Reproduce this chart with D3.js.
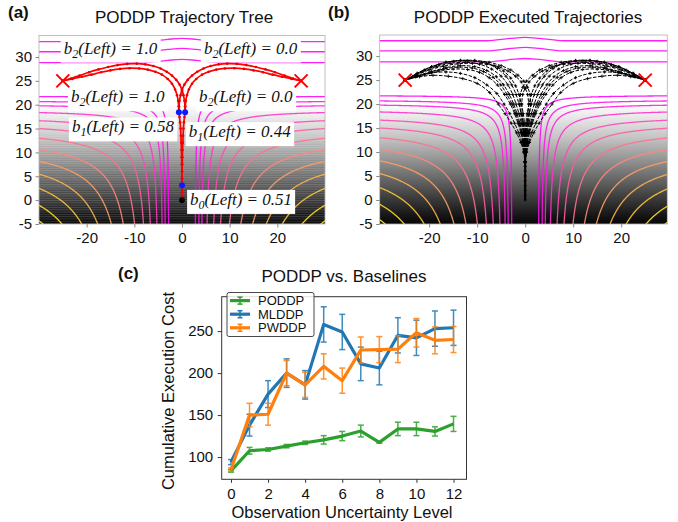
<!DOCTYPE html>
<html>
<head>
<script src="https://d3js.org/d3.v7.min.js"></script>
<style>
body { margin: 0; background: #fff; }
text { font-family: "Liberation Sans", Arial, Helvetica, sans-serif; }
</style>
</head>
<body>
<svg width="678" height="522"></svg>
<script>

// ---------- panel (c) data ----------
const uncertaintyLevels = [0, 1, 2, 3, 4, 5, 6, 7, 8, 9, 10, 11, 12];
const poddpCost = [83.5, 107.5, 109, 113, 117, 120.5, 125, 131, 117.5, 133.5, 133.5, 130.5, 139.5];
const poddpErr  = [1.5, 4, 2, 2, 2, 5, 5.5, 7, 1, 8, 8, 5.5, 9];
const mlddpCost = [94, 138, 175, 200, 186, 258, 249, 211, 206, 245, 242, 253, 254];
const mlddpErr  = [3, 13, 16, 17, 17, 21, 21, 20, 20, 21, 21, 21, 21];
const pwddpCost = [85, 150, 151, 200, 186, 208, 191, 227.5, 228, 228.5, 248, 239, 240];
const pwddpErr  = [2, 14, 13, 15, 15, 15, 15, 15.5, 15.5, 16, 17, 16, 15.5];
const costTicks = [100, 150, 200, 250];
const levelTicks = [0, 2, 4, 6, 8, 10, 12];

// ---------- panels (a) and (b) data ----------
const xTicks = [-20, -10, 0, 10, 20];
const yTicks = [-5, 0, 5, 10, 15, 20, 25, 30];
const goals = [[-25, 25], [25, 25]];
// where each curved cost contour meets the left edge (x = -30) and the bottom edge (y = -5)
const contourEdgeY = [21.7, 20.6, 19.8, 18.4, 16.7, 14.9, 12.8, 10.1, 7.6, 4.9, 1.7, -2.1, -4.3];
const contourBottomX = [-2.8, -3.5, -4.2, -5.3, -6.7, -8.0, -9.8, -11.9, -14.3, -17.1, -20.2, -24.0, -29.2];
// flat contours above the goals
const topContours = [
  [[-31, 28.8], [-8, 28.8], [-3, 29.3], [0, 29.5], [3, 29.3], [8, 28.8], [31, 28.8]],
  [[-31, 31.1], [-8, 31.1], [-3, 31.6], [0, 31.8], [3, 31.6], [8, 31.1], [31, 31.1]],
  [[-31, 33.2], [-8, 33.2], [-3, 33.7], [0, 33.9], [3, 33.7], [8, 33.2], [31, 33.2]]
];
// background shade by height
const shadeStops = [[20, "#ffffff"], [17, "#e6e6e6"], [13, "#c4c4c4"], [9, "#9a9a9a"],
                    [5, "#6e6e6e"], [1, "#424242"], [-3, "#181818"], [-5, "#060606"]];

// (a) trajectory tree
const treeTrunk = [[0, 0], [0, 0.8], [0, 1.6], [0, 2.4], [0, 3.1]];
const treeBranch = [[0, 3.1], [0, 4.5], [-0.02, 6], [-0.05, 7.5], [-0.08, 9], [-0.12, 10.5], [-0.17, 12],
                    [-0.23, 13.5], [-0.3, 15], [-0.4, 16.3], [-0.52, 17.4], [-0.65, 18.4]];
const treeArcInner = [[-0.65, 18.4], [-0.7, 19.6], [-0.8, 20.8], [-1.05, 22], [-1.45, 23.2], [-2.1, 24.4],
                      [-3, 25.4], [-4.2, 26.3], [-5.6, 26.9], [-7.2, 27.35], [-9, 27.6], [-11, 27.65],
                      [-13, 27.5], [-15, 27.2], [-17, 26.8], [-19, 26.3], [-21, 25.85], [-23, 25.4], [-25, 25]];
const treeArcOuter = [[0.65, 18.4], [0.62, 19.6], [0.52, 20.8], [0.3, 22], [0, 23.1], [-0.5, 24.2],
                      [-1.2, 25.2], [-2.1, 26.1], [-3.2, 26.9], [-4.5, 27.6], [-6, 28.1], [-7.7, 28.45],
                      [-9.5, 28.6], [-11.5, 28.55], [-13.5, 28.3], [-15.5, 27.9], [-17.5, 27.4],
                      [-19.5, 26.8], [-21.5, 26.1], [-23.3, 25.5], [-25, 25]];
const treeNodes = [[0, 3.1], [-0.65, 18.4], [0.65, 18.4]];
const treeRoot = [0, 0];
const beliefNotes = [
  {step: "2", value: "1.0", x: -15, y: 30.7},
  {step: "2", value: "0.0", x: 14.4, y: 30.7},
  {step: "2", value: "1.0", x: -13.5, y: 20.5},
  {step: "2", value: "0.0", x: 13.4, y: 20.5},
  {step: "1", value: "0.58", x: -12.4, y: 14.2},
  {step: "1", value: "0.44", x: 12.1, y: 13.2},
  {step: "0", value: "0.51", x: 12.4, y: -1.0}
];

// (b) executed trajectories, left-going ones (right-going are mirrored)
const execTrunk = [[0, 0], [0, 1], [0, 2], [0, 3], [0, 4], [0, 5], [0, 6], [0, 7], [0, 8], [0, 9], [0, 10]];
const execLeft = [
  [[0, 8], [-0.3, 10], [-0.9, 12], [-1.8, 14], [-2.9, 16], [-4.2, 18], [-5.6, 20], [-7.4, 22.4], [-10, 24.3],
   [-13, 25.3], [-16, 25.8], [-19.2, 26], [-22, 25.7], [-25, 25]],
  [[0, 8], [-0.25, 10], [-0.7, 12], [-1.35, 14], [-2.2, 16], [-3.2, 18], [-4.4, 20], [-5.9, 22.2], [-8, 24],
   [-10.5, 25.5], [-13.5, 26.4], [-16.5, 26.7], [-19.5, 26.5], [-22.5, 25.8], [-25, 25]],
  [[0, 8], [-0.2, 10], [-0.5, 12], [-0.9, 14], [-1.5, 16], [-2.2, 18], [-3.1, 20], [-4.3, 22], [-5.8, 24],
   [-7.5, 25.5], [-9.5, 26.6], [-12, 27.2], [-15, 27.3], [-18, 26.9], [-21, 26.1], [-25, 25]],
  [[0, 8], [-0.15, 10], [-0.4, 12], [-0.75, 14], [-1.3, 16], [-1.95, 18], [-2.75, 20], [-3.8, 22], [-5.1, 24],
   [-6.7, 25.6], [-8.7, 26.8], [-11, 27.5], [-14, 27.7], [-17, 27.3], [-20, 26.5], [-22.8, 25.7], [-25, 25]],
  [[0, 8], [-0.1, 10], [-0.3, 12], [-0.6, 14], [-1.1, 16], [-1.7, 18], [-2.4, 20], [-3.3, 22], [-4.5, 24],
   [-6, 25.7], [-8, 27], [-10.5, 27.8], [-13.5, 28], [-16.5, 27.6], [-19.5, 26.8], [-22.5, 25.9], [-25, 25]],
  [[0, 8], [0, 10], [-0.15, 12], [-0.4, 14], [-0.8, 16], [-1.3, 18], [-1.9, 20], [-2.6, 22], [-3.6, 24],
   [-5, 25.8], [-7, 27.3], [-9.5, 28.3], [-12.5, 28.7], [-15.5, 28.5], [-18.5, 27.8], [-21.5, 26.7], [-25, 25]],
  [[0, 8], [0, 10], [0, 12], [-0.1, 14], [-0.4, 16], [-0.8, 18], [-1.3, 20], [-1.9, 22], [-2.8, 24],
   [-4, 25.8], [-5.8, 27.4], [-8, 28.5], [-10.5, 29], [-13.5, 29.1], [-16.5, 28.7], [-19.5, 27.8], [-22.5, 26.4], [-25, 25]],
  [[0, 8], [0, 10], [0, 12], [0, 14], [-0.15, 16], [-0.4, 18], [-0.8, 20], [-1.3, 22], [-2, 23.8], [-3, 25.4],
   [-4.5, 26.9], [-6.5, 28], [-9, 28.7], [-12, 29], [-15, 28.9], [-18, 28.2], [-21, 27.1], [-25, 25]],
  [[0, 8], [0, 10], [0.05, 12], [0.2, 14], [0.4, 16], [0.6, 18], [0.7, 20], [0.5, 22], [0, 23.3], [-0.8, 24.6],
   [-2, 25.8], [-3.6, 26.9], [-5.6, 27.8], [-8, 28.3], [-11, 28.5], [-14, 28.4], [-17, 27.9], [-20, 27.1],
   [-22.8, 26], [-25, 25]],
  [[0, 8], [0, 10], [0.1, 12], [0.3, 14], [0.6, 16], [0.9, 18], [1.1, 20], [1.0, 22], [0.5, 23.5], [-0.3, 24.8],
   [-1.5, 26], [-3, 27.1], [-5, 28], [-7.5, 28.7], [-10.5, 29.1], [-13.5, 29.1], [-16.5, 28.7], [-19.5, 27.8],
   [-22.5, 26.4], [-25, 25]]
];

// ---------- cost field behind (a) and (b) ----------
const ceilingY = 22, wallOffset = 2.5, wallRef = 2.8, wallDecay = 5, normP = 1.5, shift = 4;
const soft = d => d > 0 ? shift + d : shift * Math.exp(d / shift);
function costField(x, y) {
  const ax = Math.abs(x);
  const u = soft(ax - wallOffset * Math.exp(-(ax - wallRef) / wallDecay));
  const v = soft(ceilingY - y);
  return Math.pow(Math.pow(u, -normP) + Math.pow(v, -normP), -1 / normP);
}
const contourLevels = contourEdgeY.map((y, i) => (costField(-30, y) + costField(contourBottomX[i], -5)) / 2);
const spring = t => d3.rgb(255, Math.round(255 * t), Math.round(255 * (1 - t))).toString();
const levelTone = d3.scaleLinear().domain(d3.extent(contourLevels)).range([0.03, 0.95]);

const grid = {x0: -33, y0: -8, step: 0.1};
grid.nx = Math.round((33 - grid.x0) / grid.step) + 1;
grid.ny = Math.round((23 - grid.y0) / grid.step) + 1;
const fieldValues = new Float64Array(grid.nx * grid.ny);
for (let j = 0; j < grid.ny; j++)
  for (let i = 0; i < grid.nx; i++)
    fieldValues[j * grid.nx + i] = costField(grid.x0 + i * grid.step, grid.y0 + j * grid.step);
const isolines = d3.contours().size([grid.nx, grid.ny]).thresholds(contourLevels)(fieldValues);

const mirror = path => path.map(p => [-p[0], p[1]]);

const svg = d3.select("svg");
const defs = svg.append("defs");

const stripes = defs.append("pattern").attr("id", "stripes").attr("patternUnits", "userSpaceOnUse")
    .attr("width", 8).attr("height", 2.3);
stripes.append("rect").attr("width", 8).attr("height", 1).attr("fill", "#fff").attr("opacity", 0.16);

function fieldPanel(id, box, xDomain, yDomain, title, titleX, letter, letterX, striped) {
  const xs = d3.scaleLinear().domain(xDomain).range([box.left, box.right]);
  const ys = d3.scaleLinear().domain(yDomain).range([box.bottom, box.top]);
  const g = svg.append("g");

  defs.append("clipPath").attr("id", "clip" + id).append("rect")
      .attr("x", box.left).attr("y", box.top)
      .attr("width", box.right - box.left).attr("height", box.bottom - box.top);

  const grad = defs.append("linearGradient").attr("id", "shade" + id)
      .attr("gradientUnits", "userSpaceOnUse")
      .attr("x1", 0).attr("x2", 0).attr("y1", ys(shadeStops[0][0])).attr("y2", ys(-5));
  const span = ys(-5) - ys(shadeStops[0][0]);
  shadeStops.forEach(s => grad.append("stop")
      .attr("offset", (ys(s[0]) - ys(shadeStops[0][0])) / span).attr("stop-color", s[1]));

  const plot = g.append("g").attr("clip-path", "url(#clip" + id + ")");
  plot.append("rect").attr("x", box.left).attr("y", box.top)
      .attr("width", box.right - box.left).attr("height", box.bottom - box.top)
      .attr("fill", "url(#shade" + id + ")");
  if (striped) {
    plot.append("rect").attr("x", box.left).attr("y", ys(18.5))
        .attr("width", box.right - box.left).attr("height", box.bottom - ys(18.5))
        .attr("fill", "url(#stripes)");
  }

  const toScreen = d3.geoTransform({
    point: function(px, py) {
      this.stream.point(xs(grid.x0 + (px - 0.5) * grid.step), ys(grid.y0 + (py - 0.5) * grid.step));
    }
  });
  const geo = d3.geoPath(toScreen);
  plot.selectAll(".iso").data(isolines).join("path")
      .attr("d", geo)
      .attr("fill", "none")
      .attr("stroke", d => spring(levelTone(d.value)))
      .attr("stroke-width", 1.3)
      .attr("opacity", 0.9);

  const flat = d3.line().x(d => xs(d[0])).y(d => ys(d[1])).curve(d3.curveMonotoneX);
  plot.selectAll(".top").data(topContours).join("path")
      .attr("d", flat).attr("fill", "none")
      .attr("stroke", spring(0.03)).attr("stroke-width", 1.3).attr("opacity", 0.9);

  // frame and ticks
  g.append("rect").attr("x", box.left).attr("y", box.top)
      .attr("width", box.right - box.left).attr("height", box.bottom - box.top)
      .attr("fill", "none").attr("stroke", "#b0b0b0").attr("stroke-width", 0.8);
  const fmt = d => String(d);
  const ax = g.append("g").attr("transform", "translate(0," + box.bottom + ")")
      .call(d3.axisBottom(xs).tickValues(xTicks).tickSize(3.5).tickPadding(5).tickFormat(fmt));
  const ay = g.append("g").attr("transform", "translate(" + box.left + ",0)")
      .call(d3.axisLeft(ys).tickValues(yTicks).tickSize(3.5).tickPadding(3.5).tickFormat(fmt));
  [ax, ay].forEach(a => {
    a.select(".domain").remove();
    a.selectAll("line").attr("stroke", "#888");
    a.selectAll("text").style("font-size", "15px").attr("fill", "#111")
        .style("font-family", "'Liberation Sans', Arial, sans-serif");
  });

  g.append("text").attr("x", titleX).attr("y", 23).attr("text-anchor", "middle")
      .style("font-size", "17px").attr("fill", "#111").text(title);
  g.append("text").attr("x", letterX).attr("y", 18)
      .style("font-size", "17px").style("font-weight", "bold").attr("fill", "#111").text(letter);

  return {g, plot, xs, ys};
}

function drawGoals(p) {
  p.plot.selectAll(".goal").data(goals).join("path")
      .attr("transform", d => "translate(" + p.xs(d[0]) + "," + p.ys(d[1]) + ")")
      .attr("d", "M-6.5,-6.5L6.5,6.5M-6.5,6.5L6.5,-6.5")
      .attr("stroke", "#f00").attr("stroke-width", 2).attr("fill", "none");
}

// ---------- panel (a) ----------
const pa = fieldPanel("A", {left: 39, right: 325, top: 35.5, bottom: 224}, [-30, 30], [-5, 34.5],
                      "PODDP Trajectory Tree", 184, "(a)", 8, true);

// belief annotations with white boxes
beliefNotes.forEach(a => {
  const t = pa.g.append("text").attr("x", pa.xs(a.x)).attr("y", pa.ys(a.y))
      .attr("text-anchor", "middle")
      .style("font-family", "'Liberation Serif', 'DejaVu Serif', serif")
      .style("font-style", "italic").style("font-size", "17px").attr("fill", "#111");
  t.append("tspan").text("b");
  t.append("tspan").attr("dy", 4).style("font-size", "12px").text(a.step);
  t.append("tspan").attr("dy", -4).text("(Left) = " + a.value);
  const bb = t.node().getBBox();
  pa.g.insert("rect", () => t.node())
      .attr("x", bb.x - 3).attr("y", bb.y).attr("width", bb.width + 6).attr("height", bb.height + 2)
      .attr("fill", "#fff");
});

const treePaths = [treeTrunk, treeBranch, mirror(treeBranch), treeArcInner, treeArcOuter,
                   mirror(treeArcInner), mirror(treeArcOuter)];
const smooth = s => d3.line().x(d => s.xs(d[0])).y(d => s.ys(d[1])).curve(d3.curveCatmullRom.alpha(0.5));
const treeLayer = pa.g.append("g").attr("clip-path", "url(#clipA)");
treeLayer.selectAll(".branch").data(treePaths).join("path")
    .attr("d", smooth(pa)).attr("fill", "none").attr("stroke", "#f00").attr("stroke-width", 1.7);
treeLayer.selectAll(".tick").data(treePaths.flat()).join("circle")
    .attr("cx", d => pa.xs(d[0])).attr("cy", d => pa.ys(d[1])).attr("r", 1.3).attr("fill", "#e00");
drawGoals({plot: treeLayer, xs: pa.xs, ys: pa.ys});
treeLayer.selectAll(".node").data(treeNodes).join("circle")
    .attr("cx", d => pa.xs(d[0])).attr("cy", d => pa.ys(d[1])).attr("r", 3).attr("fill", "#0a1cff");
treeLayer.append("circle").attr("cx", pa.xs(treeRoot[0])).attr("cy", pa.ys(treeRoot[1]))
    .attr("r", 2.8).attr("fill", "#000");

// ---------- panel (b) ----------
const pb = fieldPanel("B", {left: 379.7, right: 667.3, top: 35, bottom: 224}, [-30.3, 29.6], [-5, 34.4],
                      "PODDP Executed Trajectories", 528, "(b)", 328, false);
const execPaths = [execTrunk].concat(execLeft, execLeft.map(mirror));
pb.plot.selectAll(".exec").data(execPaths).join("path")
    .attr("d", smooth(pb)).attr("fill", "none").attr("stroke", "#000")
    .attr("stroke-width", d => d === execTrunk ? 2.2 : 1)
    .attr("stroke-dasharray", d => d === execTrunk ? null : "3.5,1.5");
pb.plot.selectAll(".mark").data(execPaths.flat()).join("path")
    .attr("transform", d => "translate(" + pb.xs(d[0]) + "," + pb.ys(d[1]) + ")")
    .attr("d", "M-1.6,0H1.6M0,-1.6V1.6").attr("stroke", "#000").attr("stroke-width", 0.9);
drawGoals(pb);

// ---------- panel (c) ----------
const box = {left: 221.7, right: 466.5, top: 296.7, bottom: 479.3};
const xc = d3.scaleLinear().domain([-0.5, 12.7]).range([box.left, box.right]);
const yc = d3.scaleLinear().domain([73.5, 291]).range([box.bottom, box.top]);
const gc = svg.append("g");

const series = [
  {name: "PODDP", color: "#2ca02c", mean: poddpCost, err: poddpErr},
  {name: "MLDDP", color: "#1f77b4", mean: mlddpCost, err: mlddpErr},
  {name: "PWDDP", color: "#ff7f0e", mean: pwddpCost, err: pwddpErr}
];

const costLine = d3.line().x((d, i) => xc(uncertaintyLevels[i])).y(d => yc(d));
series.forEach(s => {
  const sg = gc.append("g");
  sg.append("path").datum(s.mean).attr("d", costLine)
      .attr("fill", "none").attr("stroke", s.color).attr("stroke-width", 3.2).attr("stroke-linejoin", "round");
  const bars = sg.selectAll(".bar").data(uncertaintyLevels).join("g").attr("opacity", 0.85);
  bars.append("line")
      .attr("x1", d => xc(d)).attr("x2", d => xc(d))
      .attr("y1", (d, i) => yc(s.mean[i] - s.err[i])).attr("y2", (d, i) => yc(s.mean[i] + s.err[i]))
      .attr("stroke", s.color).attr("stroke-width", 1.5);
  [-1, 1].forEach(side => bars.append("line")
      .attr("x1", d => xc(d) - 3).attr("x2", d => xc(d) + 3)
      .attr("y1", (d, i) => yc(s.mean[i] + side * s.err[i])).attr("y2", (d, i) => yc(s.mean[i] + side * s.err[i]))
      .attr("stroke", s.color).attr("stroke-width", 1.5));
});

gc.append("rect").attr("x", box.left).attr("y", box.top)
    .attr("width", box.right - box.left).attr("height", box.bottom - box.top)
    .attr("fill", "none").attr("stroke", "#333").attr("stroke-width", 1);
const cx = gc.append("g").attr("transform", "translate(0," + box.bottom + ")")
    .call(d3.axisBottom(xc).tickValues(levelTicks).tickSize(3.5).tickPadding(6).tickFormat(d => String(d)));
const cy = gc.append("g").attr("transform", "translate(" + box.left + ",0)")
    .call(d3.axisLeft(yc).tickValues(costTicks).tickSize(4).tickPadding(4.5).tickFormat(d => String(d)));
[cx, cy].forEach(a => {
  a.select(".domain").remove();
  a.selectAll("line").attr("stroke", "#333");
  a.selectAll("text").style("font-size", "15px").attr("fill", "#111")
      .style("font-family", "'Liberation Sans', Arial, sans-serif");
});

gc.append("text").attr("x", 344).attr("y", 282).attr("text-anchor", "middle")
    .style("font-size", "17px").attr("fill", "#111").text("PODDP vs. Baselines");
gc.append("text").attr("x", 118).attr("y", 279)
    .style("font-size", "17px").style("font-weight", "bold").attr("fill", "#111").text("(c)");
gc.append("text").attr("x", 342).attr("y", 518).attr("text-anchor", "middle")
    .style("font-size", "16.5px").attr("fill", "#111").text("Observation Uncertainty Level");
gc.append("text").attr("transform", "translate(174,391) rotate(-90)").attr("text-anchor", "middle")
    .style("font-size", "16.5px").attr("fill", "#111").text("Cumulative Execution Cost");

// legend
const lg = gc.append("g");
lg.append("rect").attr("x", 227).attr("y", 292.5).attr("width", 87).attr("height", 44).attr("rx", 2)
    .attr("fill", "#fff").attr("fill-opacity", 0.85).attr("stroke", "#333").attr("stroke-width", 0.9);
series.forEach((s, i) => {
  const yb = 305.2 + i * 13.6;
  const yl = yb - 4.6;
  lg.append("line").attr("x1", 230).attr("x2", 250).attr("y1", yl).attr("y2", yl)
      .attr("stroke", s.color).attr("stroke-width", 3.2);
  lg.append("line").attr("x1", 240).attr("x2", 240).attr("y1", yl - 3.5).attr("y2", yl + 3.5)
      .attr("stroke", s.color).attr("stroke-width", 1.5);
  [-3.5, 3.5].forEach(o => lg.append("line").attr("x1", 237.5).attr("x2", 242.5)
      .attr("y1", yl + o).attr("y2", yl + o).attr("stroke", s.color).attr("stroke-width", 1.5));
  lg.append("text").attr("x", 258).attr("y", yb).style("font-size", "13px").attr("fill", "#111").text(s.name);
});

</script>
</body>
</html>
